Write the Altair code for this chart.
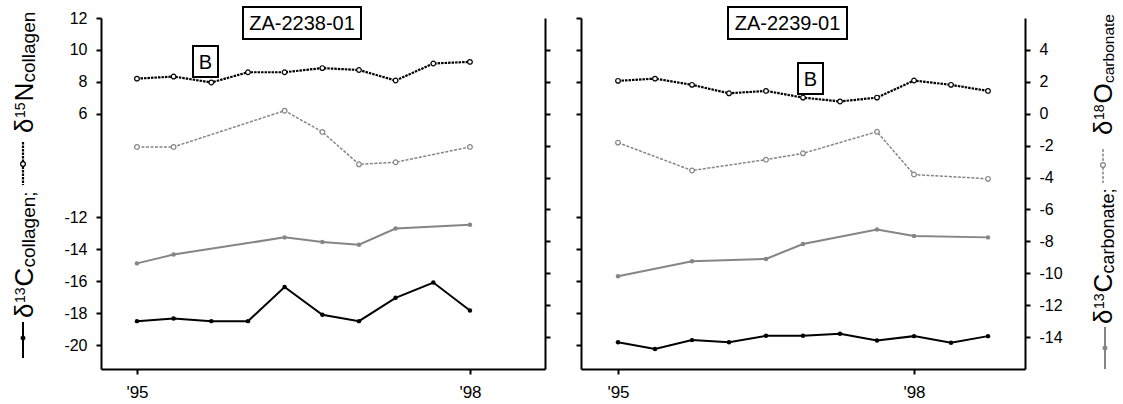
import altair as alt
import pandas as pd

FONT = "Liberation Sans"
BLACK = "#000000"
GREY = "#858585"

# ---------------- data: ZA-2238-01 ----------------
A_t_coll = [1995.0, 1995.33, 1995.67, 1996.0, 1996.33, 1996.67, 1997.0, 1997.33, 1997.67, 1998.0]
A_d15N_coll = [8.2, 8.33, 7.96, 8.6, 8.6, 8.86, 8.74, 8.08, 9.15, 9.25]
A_d13C_coll = [-18.5, -18.33, -18.5, -18.5, -16.36, -18.1, -18.5, -17.04, -16.08, -17.83]
A_t_carb = [1995.0, 1995.33, 1996.33, 1996.67, 1997.0, 1997.33, 1998.0]
A_d18O_carb = [-2.08, -2.08, 0.19, -1.14, -3.17, -3.04, -2.08]
A_d13C_carb = [-9.38, -8.83, -7.75, -8.04, -8.21, -7.2, -6.96]

# ---------------- data: ZA-2239-01 ----------------
B_t_coll = [1995.0, 1995.375, 1995.75, 1996.125, 1996.5, 1996.875, 1997.25, 1997.625, 1998.0, 1998.375, 1998.75]
B_d15N_coll = [8.06, 8.2, 7.81, 7.28, 7.43, 7.01, 6.77, 7.01, 8.08, 7.81, 7.43]
B_d13C_coll = [-19.83, -20.25, -19.69, -19.83, -19.42, -19.42, -19.29, -19.71, -19.44, -19.86, -19.44]
B_t_carb = [1995.0, 1995.75, 1996.5, 1996.875, 1997.625, 1998.0, 1998.75]
B_d18O_carb = [-1.81, -3.56, -2.88, -2.48, -1.13, -3.81, -4.08]
B_d13C_carb = [-10.19, -9.25, -9.1, -8.17, -7.25, -7.67, -7.75]

# ---------------- axes ----------------
X_TICKS = [1995, 1998]
LEFT_TICKS_TOP = [12, 10, 8, 6]
LEFT_TICKS_BOTTOM = [-12, -14, -16, -18, -20]
RIGHT_TICKS = [4, 2, 0, -2, -4, -6, -8, -10, -12, -14]
BREAK = 11.5  # offset of the broken left axis (d13C collagen segment)
LEFT_DOMAIN = [-10, 12]
RIGHT_DOMAIN = [-16, 6]

W, H = 444, 351


def text_piece(s, x, y, size, angle=270, align="left", baseline="alphabetic", color=BLACK):
    return alt.Chart(pd.DataFrame({"s": [s]})).mark_text(
        angle=angle, align=align, baseline=baseline, font=FONT, fontSize=size, color=color
    ).encode(x=alt.value(x), y=alt.value(y), text="s:N")


def rule_piece(x, y1, y2, color, width, dash=None):
    kw = dict(color=color, strokeWidth=width)
    if dash:
        kw["strokeDash"] = dash
    return alt.Chart(pd.DataFrame({"s": [0]})).mark_rule(**kw).encode(
        x=alt.value(x), y=alt.value(y1), y2=alt.value(y2))


def dot_piece(x, y, color, hollow, size):
    if hollow:
        m = dict(shape="circle", filled=True, fill="white", stroke=color, strokeWidth=1.3, size=size, opacity=1)
    else:
        m = dict(shape="circle", filled=True, fill=color, stroke=color, strokeWidth=0.5, size=size, opacity=1)
    return alt.Chart(pd.DataFrame({"s": [0]})).mark_point(**m).encode(x=alt.value(x), y=alt.value(y))


def box_piece(label, x1, x2, y1, y2, size):
    rect = alt.Chart(pd.DataFrame({"s": [label]})).mark_rect(
        fill="white", stroke=BLACK, strokeWidth=2
    ).encode(x=alt.value(x1), x2=alt.value(x2), y=alt.value(y1), y2=alt.value(y2))
    txt = text_piece(label, (x1 + x2) / 2, (y1 + y2) / 2 + 1, size, angle=0, align="center", baseline="middle")
    return [rect, txt]


def panel(t_coll, n_vals, c_vals, t_carb, o_vals, cc_vals, xdom, left_labels, right_labels, extras):
    coll = pd.DataFrame({"t": t_coll, "n": n_vals, "c": c_vals})
    carb = pd.DataFrame({"t": t_carb, "o": o_vals, "cc": cc_vals})

    xenc = alt.X("t:Q", scale=alt.Scale(domain=xdom, nice=False, zero=False),
                 axis=alt.Axis(values=X_TICKS, title=None,
                               labelExpr="datum.value < 1996.5 ? \"'95\" : \"'98\"",
                               labelFontSize=17, labelPadding=10))

    yl_scale = alt.Scale(domain=LEFT_DOMAIN, nice=False, zero=False)
    yl_axis = alt.Axis(orient="left", title=None, labels=left_labels,
                       values=LEFT_TICKS_TOP + [v + BREAK for v in LEFT_TICKS_BOTTOM],
                       labelExpr=f"toString(datum.value > 2 ? datum.value : datum.value - {BREAK})")
    yr_scale = alt.Scale(domain=RIGHT_DOMAIN, nice=False, zero=False)
    yr_axis = alt.Axis(orient="right", title=None, labels=right_labels, values=RIGHT_TICKS,
                       labelExpr="toString(datum.value)")

    bc = alt.Chart(coll).encode(x=xenc)
    bcu = bc.transform_calculate(cu=f"datum.c + {BREAK}")
    n_line = bc.mark_line(color=BLACK, strokeWidth=2.2, strokeDash=[2.5, 1]).encode(
        y=alt.Y("n:Q", scale=yl_scale, axis=yl_axis))
    n_pts = bc.mark_point(shape="circle", filled=True, fill="white", stroke=BLACK,
                          strokeWidth=1.2, size=22, opacity=1).encode(
        y=alt.Y("n:Q", scale=yl_scale, axis=yl_axis))
    c_line = bcu.mark_line(color=BLACK, strokeWidth=2).encode(
        y=alt.Y("cu:Q", scale=yl_scale, axis=yl_axis))
    c_pts = bcu.mark_point(shape="circle", filled=True, fill=BLACK, size=20, opacity=1).encode(
        y=alt.Y("cu:Q", scale=yl_scale, axis=yl_axis))

    bk = alt.Chart(carb).encode(x=xenc)
    o_line = bk.mark_line(color=GREY, strokeWidth=1.5, strokeDash=[3, 1.5]).encode(
        y=alt.Y("o:Q", scale=yr_scale, axis=yr_axis))
    o_pts = bk.mark_point(shape="circle", filled=True, fill="white", stroke=GREY,
                          strokeWidth=1.2, size=22, opacity=1).encode(
        y=alt.Y("o:Q", scale=yr_scale, axis=yr_axis))
    cc_line = bk.mark_line(color=GREY, strokeWidth=2).encode(
        y=alt.Y("cc:Q", scale=yr_scale, axis=yr_axis))
    cc_pts = bk.mark_point(shape="circle", filled=True, fill=GREY, size=20, opacity=1).encode(
        y=alt.Y("cc:Q", scale=yr_scale, axis=yr_axis))

    coll_layer = alt.layer(n_line, c_line, n_pts, c_pts)
    carb_layer = alt.layer(o_line, cc_line, o_pts, cc_pts)
    return alt.layer(coll_layer, carb_layer, *extras).resolve_scale(y="independent").properties(
        width=W, height=H)


# ---------------- annotations (pixel positions relative to each panel) ----------------
FM, FSUP, FSUB = 26, 14, 19

# left panel origin at (101, 16) in the page
L = []
L += box_piece("ZA-2238-01", 142, 260, -11, 21, 20)
L += box_piece("B", 92, 117, 28, 59, 20)
ox, oy = 101, 16
L += [rule_piece(23 - ox, 320 - oy, 356 - oy, BLACK, 2), dot_piece(23 - ox, 336 - oy, BLACK, False, 20)]
L += [text_piece("δ", 33 - ox, 316 - oy, FM),
      text_piece("13", 24.5 - ox, 301 - oy, FSUP),
      text_piece("C", 33 - ox, 284.5 - oy, FM),
      text_piece("collagen;", 34.5 - ox, 265.5 - oy, FSUB)]
L += [rule_piece(23 - ox, 140 - oy, 183 - oy, BLACK, 2.2, [2.5, 1]), dot_piece(23 - ox, 162 - oy, BLACK, True, 22)]
L += [text_piece("δ", 33 - ox, 131 - oy, FM),
      text_piece("15", 24.5 - ox, 116 - oy, FSUP),
      text_piece("N", 33 - ox, 99.5 - oy, FM),
      text_piece("collagen", 34.5 - ox, 80.5 - oy, FSUB)]

# right panel origin at (581, 16)
R = []
R += box_piece("ZA-2239-01", 147, 266, -11, 21, 20)
R += box_piece("B", 217, 242, 45, 76, 20)
ox, oy = 581, 16
R += [rule_piece(1105 - ox, 325 - oy, 367 - oy, GREY, 2), dot_piece(1105 - ox, 346 - oy, GREY, False, 20)]
R += [text_piece("δ", 1112 - ox, 322 - oy, FM),
      text_piece("13", 1103.5 - ox, 307 - oy, FSUP),
      text_piece("C", 1112 - ox, 290.5 - oy, FM),
      text_piece("carbonate;", 1113.5 - ox, 271.5 - oy, FSUB - 1)]
R += [rule_piece(1103 - ox, 147 - oy, 181 - oy, GREY, 1.5, [3, 1.5]), dot_piece(1103 - ox, 163 - oy, GREY, True, 22)]
R += [text_piece("δ", 1112 - ox, 133 - oy, FM),
      text_piece("18", 1103.5 - ox, 118 - oy, FSUP),
      text_piece("O", 1112 - ox, 101.5 - oy, FM),
      text_piece("carbonate", 1113.5 - ox, 81 - oy, 15.5)]

left = panel(A_t_coll, A_d15N_coll, A_d13C_coll, A_t_carb, A_d18O_carb, A_d13C_carb,
             [1994.676, 1998.676], True, False, L)
right = panel(B_t_coll, B_d15N_coll, B_d13C_coll, B_t_carb, B_d18O_carb, B_d13C_carb,
              [1994.625, 1999.125], False, True, R)

chart = alt.hconcat(left, right, spacing=36, bounds="flush").properties(
    padding={"left": 12, "top": 6, "right": 0, "bottom": 0},
    background="white",
).configure_view(stroke=None).configure_axis(
    domainColor=BLACK, domainWidth=2, tickColor=BLACK, tickWidth=2, tickSize=5,
    labelFont=FONT, labelFontSize=16, labelColor=BLACK, labelPadding=9, grid=False,
)

chart.save("out.html", embed_options={"renderer": "svg", "actions": False})
